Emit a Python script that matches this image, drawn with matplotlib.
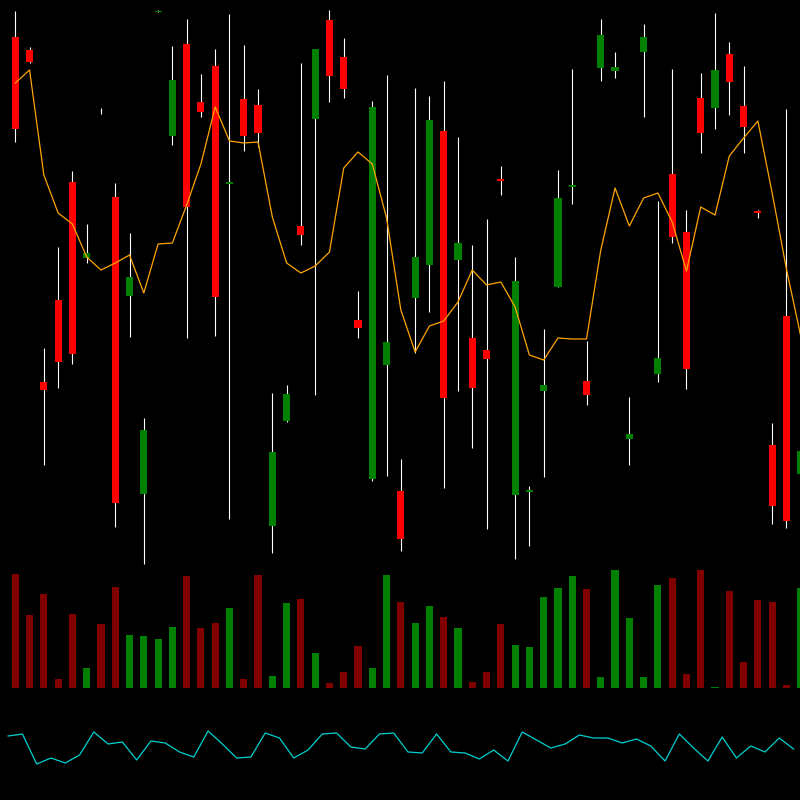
import matplotlib
matplotlib.use("Agg")
import matplotlib.pyplot as plt
import numpy as np

backgroundColor = "#000000"
upColor = "#008000"
downColor = "#ff0000"
upVolColor = "#008000"
downVolColor = "#800000"
wickColor = "#ffffff"
maColor = "#ffa500"
oscColor = "#00d0d0"

# candle data (price units)
opens = [54.3, 53.0, 19.8, 28.0, 39.8, 32.2, 46.9, 38.3, 28.4, 8.6,
         56.8, 44.4, 53.6, 47.8, 51.4, 39.6, 48.1, 47.5, 5.4, 15.9,
         35.4, 46.1, 56.0, 52.3, 26.0, 10.1, 21.5, 8.9, 28.2, 31.5,
         44.9, 32.0, 24.2, 23.0, 40.1, 8.5, 8.8, 18.9, 29.3, 39.3,
         19.9, 51.2, 50.9, 14.1, 52.8, 20.6, 40.6, 34.8, 48.2, 47.2,
         52.6, 47.4, 36.9, 13.5, 26.4, 10.6]
highs = [56.9, 53.3, 23.2, 33.3, 40.9, 35.6, 47.2, 39.7, 34.7, 16.2,
         57.0, 53.4, 56.1, 50.6, 53.1, 56.6, 53.5, 49.1, 18.7, 19.5,
         51.7, 53.1, 57.0, 54.2, 28.9, 47.9, 50.5, 12.1, 49.2, 48.4,
         49.9, 44.3, 33.5, 36.1, 41.4, 32.3, 9.4, 25.1, 41.0, 51.1,
         23.9, 56.1, 52.8, 18.3, 55.6, 37.9, 51.1, 37.0, 50.7, 56.7,
         53.8, 51.4, 37.0, 15.7, 47.1, 14.0]
lows = [43.8, 51.7, 11.5, 19.2, 21.6, 31.7, 46.6, 5.3, 24.3, 1.6,
        56.8, 43.5, 24.2, 46.3, 24.4, 6.1, 42.9, 43.3, 2.7, 15.8,
        33.5, 18.5, 47.8, 48.2, 24.2, 9.9, 10.4, 2.9, 22.7, 26.8,
        9.2, 18.9, 13.2, 5.1, 38.5, 2.1, 3.4, 10.3, 29.3, 37.6,
        17.5, 49.9, 50.2, 11.5, 46.3, 19.8, 33.7, 19.1, 42.7, 45.1,
        46.5, 42.7, 36.2, 5.6, 5.2, 8.0]
closes = [45.1, 51.8, 19.0, 21.8, 22.6, 32.7, 46.9, 7.7, 30.3, 15.0,
          56.9, 50.0, 37.3, 46.8, 28.3, 39.8, 44.4, 44.7, 12.8, 18.6,
          34.5, 53.1, 50.4, 49.1, 25.2, 47.3, 23.8, 4.1, 32.3, 46.0,
          18.2, 33.7, 19.2, 22.1, 39.9, 29.9, 9.0, 19.5, 38.2, 39.5,
          18.5, 54.5, 51.3, 14.6, 54.3, 22.2, 34.3, 21.1, 44.7, 51.0,
          49.8, 45.3, 36.7, 7.4, 5.9, 12.9]

# moving average line
ma = [49.7, 51.0, 40.5, 36.7, 35.6, 32.3, 31.0, 31.7, 32.5, 28.7,
      33.6, 33.7, 37.5, 41.6, 47.3, 43.9, 43.7, 43.8, 36.3, 31.7,
      30.7, 31.4, 32.8, 41.2, 42.8, 41.6, 36.2, 27.0, 22.8, 25.4,
      25.9, 27.8, 31.0, 29.5, 29.8, 27.3, 22.5, 22.0, 24.2, 24.1,
      24.1, 33.0, 39.2, 35.4, 38.2, 38.7, 35.8, 30.9, 37.3, 36.5,
      42.4, 44.2, 45.9, 38.7, 31.1, 24.4]

volumes = [114, 73, 94, 9, 74, 20, 64, 101, 53, 52,
           49, 61, 112, 60, 65, 80, 9, 113, 12, 85,
           89, 35, 5, 16, 42, 20, 113, 86, 65, 82,
           71, 60, 6, 16, 64, 43, 41, 91, 100, 112,
           99, 11, 118, 70, 11, 103, 110, 14, 118, 1,
           97, 26, 88, 86, 3, 100]

osc = [64, 66, 36, 42, 37, 45, 68, 56, 58, 40,
       59, 57, 48, 43, 69, 56, 42, 43, 67, 62,
       42, 50, 66, 67, 53, 51, 66, 67, 48, 47,
       66, 48, 47, 41, 50, 39, 68, 60, 52, 56,
       65, 62, 62, 57, 61, 54, 39, 66, 52, 39,
       63, 42, 54, 48, 62, 51]

x = np.arange(len(opens))
o = np.array(opens)
c = np.array(closes)
up = c > o

fig = plt.figure(figsize=(8, 8), dpi=100)
fig.patch.set_facecolor(backgroundColor)

xmin, xmax = -1.07, 54.95

# price panel
ax = fig.add_axes([0, 0.275, 1, 0.725])
ax.set_facecolor("none")
ax.vlines(x, lows, highs, color=wickColor, linewidth=0.8, zorder=1)
bodyColors = [upColor if u else downColor for u in up]
ax.bar(x, np.abs(c - o), bottom=np.minimum(o, c), width=0.5,
       color=bodyColors, linewidth=0, zorder=2)
ax.plot(x, ma, color=maColor, linewidth=0.9, zorder=3)
ax.set_xlim(xmin, xmax)
ax.set_ylim(0, 58)
ax.axis("off")

# volume panel
axv = fig.add_axes([0, 0.14, 1, 125 / 800])
axv.set_facecolor("none")
volColors = [upVolColor if u else downVolColor for u in up]
axv.bar(x, volumes, width=0.5, color=volColors, linewidth=0)
axv.set_xlim(xmin, xmax)
axv.set_ylim(0, 125)
axv.axis("off")

# oscillator panel
axo = fig.add_axes([0, 0, 1, 0.125])
axo.set_facecolor("none")
axo.plot(x - 0.5, osc, color=oscColor, linewidth=0.9)
axo.set_xlim(xmin, xmax)
axo.set_ylim(0, 100)
axo.axis("off")

fig.savefig("out.png", facecolor=backgroundColor)
